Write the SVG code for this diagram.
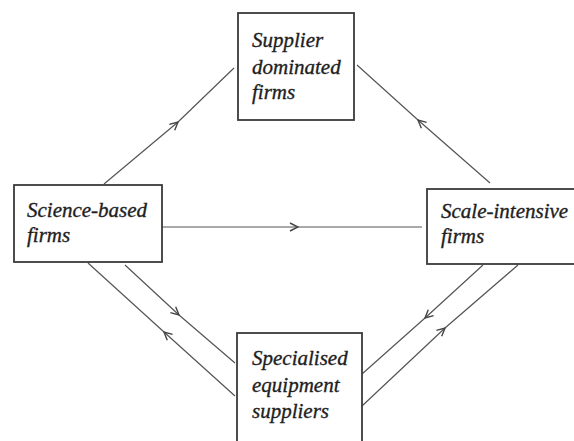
<svg xmlns="http://www.w3.org/2000/svg" width="574" height="441" viewBox="0 0 574 441">
<style>
.box{fill:#fff;stroke:#3a3a3a;stroke-width:1.8}
.lbl{font-family:'Liberation Serif','Times New Roman',serif;font-style:italic;font-size:21px;fill:#1e1e1e;stroke:#1e1e1e;stroke-width:0.35}
.edge{fill:none;stroke:#555;stroke-width:1.2}
</style>
<defs>
<marker id="arr" viewBox="0 0 10 10" refX="9" refY="5" markerWidth="10" markerHeight="10" markerUnits="userSpaceOnUse" orient="auto">
<path d="M1,1 L9,5 L1,9" fill="none" stroke="#444" stroke-width="1.4"/>
</marker>
</defs>
<rect width="574" height="441" fill="#fff"/>
<g id="connectors">
<polyline class="edge" points="104,184 178,122 234,68" marker-mid="url(#arr)"/>
<polyline class="edge" points="490,183 418,120 357,65" marker-mid="url(#arr)"/>
<polyline class="edge" points="162,227 298,227 422,227" marker-mid="url(#arr)"/>
<polyline class="edge" points="125,265 179,315 235,363" marker-mid="url(#arr)"/>
<polyline class="edge" points="235,396 164,332 88,263" marker-mid="url(#arr)"/>
<polyline class="edge" points="483,265 425,318 362,374" marker-mid="url(#arr)"/>
<polyline class="edge" points="362,406 445,328 518,265" marker-mid="url(#arr)"/>
</g>
<g id="supplier">
<rect class="box" x="238" y="13" width="116" height="107"/>
<text class="lbl" x="252" y="47">Supplier</text>
<text class="lbl" x="252" y="74">dominated</text>
<text class="lbl" x="252" y="99">firms</text>
</g>
<g id="science">
<rect class="box" x="14" y="185" width="148" height="77"/>
<text class="lbl" x="27" y="217">Science-based</text>
<text class="lbl" x="27" y="242">firms</text>
</g>
<g id="scale">
<rect class="box" x="427" y="189" width="170" height="75"/>
<text class="lbl" x="441" y="218">Scale-intensive</text>
<text class="lbl" x="441" y="243">firms</text>
</g>
<g id="specialised">
<rect class="box" x="237" y="333" width="125" height="130"/>
<text class="lbl" x="252" y="365">Specialised</text>
<text class="lbl" x="252" y="392">equipment</text>
<text class="lbl" x="252" y="418">suppliers</text>
</g>
</svg>
